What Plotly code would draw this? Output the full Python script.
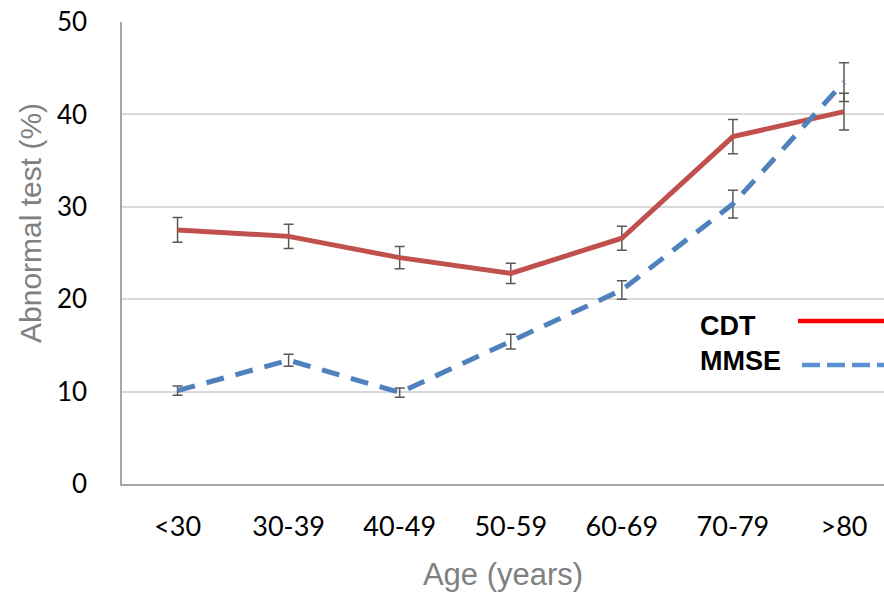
import plotly.graph_objects as go

categories = ["<30", "30-39", "40-49", "50-59", "60-69", "70-79", ">80"]
cdt = [27.5, 26.8, 24.5, 22.8, 26.6, 37.6, 40.3]
cdt_err = [1.35, 1.3, 1.2, 1.1, 1.3, 1.85, 2.0]
mmse = [10.1, 13.4, 9.9, 15.4, 21.0, 30.3, 43.5]
mmse_err = [0.5, 0.65, 0.5, 0.8, 1.0, 1.5, 2.1]
y_ticks = [0, 10, 20, 30, 40, 50]

xi = list(range(len(categories)))
err_color = "#595959"

fig = go.Figure()
fig.add_trace(go.Scatter(
    x=xi, y=cdt, mode="lines", name="CDT",
    line=dict(color="#C0504D", width=5),
    error_y=dict(type="data", array=cdt_err, visible=True, color=err_color, thickness=1.5, width=5),
))
fig.add_trace(go.Scatter(
    x=xi, y=mmse, mode="lines", name="MMSE",
    line=dict(color="#4F81BD", width=5, dash="18px,12px"),
    error_y=dict(type="data", array=mmse_err, visible=True, color=err_color, thickness=1.5, width=5),
))

fig.update_layout(
    width=884, height=597,
    margin=dict(l=122, r=0, t=22, b=113),
    plot_bgcolor="white", paper_bgcolor="white",
    showlegend=False,
    xaxis=dict(
        range=[-0.5, 6.36], tickmode="array", tickvals=xi, ticktext=categories,
        showgrid=False, showline=True, linecolor="#A6A6A6", linewidth=1.5,
        ticks="", tickfont=dict(family="Lato, Open Sans, sans-serif", size=27, color="black"),
        ticklabelstandoff=18,
        title=dict(text="Age (years)", font=dict(family="Liberation Sans, Arial", size=31, color="#808080"), standoff=22),
        zeroline=False,
    ),
    yaxis=dict(
        range=[0, 50], tickmode="array", tickvals=y_ticks,
        showgrid=True, gridcolor="#D9D9D9", gridwidth=1.5,
        showline=True, linecolor="#A6A6A6", linewidth=1.5,
        ticks="", tickfont=dict(family="Lato, Open Sans, sans-serif", size=26, color="black"),
        ticklabelstandoff=28,
        zeroline=False,
    ),
)

# y-axis title (placed slightly above centre, as in the reference)
fig.add_annotation(xref="paper", yref="paper", x=(30 - 122) / 762, y=(484 - 223) / 462,
                   text="Abnormal test (%)", textangle=-90, showarrow=False,
                   xanchor="center", yanchor="middle",
                   font=dict(family="Liberation Sans, Arial", size=30, color="#808080"))

# legend drawn manually (text left of symbol)
fig.add_annotation(xref="paper", yref="paper", x=(698 - 122) / 762, y=(484 - 326) / 462,
                   text="<b>CDT</b>", showarrow=False, xanchor="left", yanchor="middle",
                   font=dict(family="Liberation Sans, Arial", size=27, color="black"))
fig.add_annotation(xref="paper", yref="paper", x=(698 - 122) / 762, y=(484 - 361) / 462,
                   text="<b>MMSE</b>", showarrow=False, xanchor="left", yanchor="middle",
                   font=dict(family="Liberation Sans, Arial", size=27, color="black"))
fig.add_shape(type="line", xref="paper", yref="paper",
              x0=(798 - 122) / 762, x1=1.0, y0=(484 - 321) / 462, y1=(484 - 321) / 462,
              line=dict(color="#FF0000", width=4.5))
fig.add_shape(type="line", xref="paper", yref="paper",
              x0=(802 - 122) / 762, x1=1.0, y0=(484 - 365) / 462, y1=(484 - 365) / 462,
              line=dict(color="#5B8FD4", width=4.5, dash="18px,7px"))

fig.write_html("out.html", config={"displayModeBar": False},
               post_script="document.body.style.margin='0';document.body.style.padding='0';")
